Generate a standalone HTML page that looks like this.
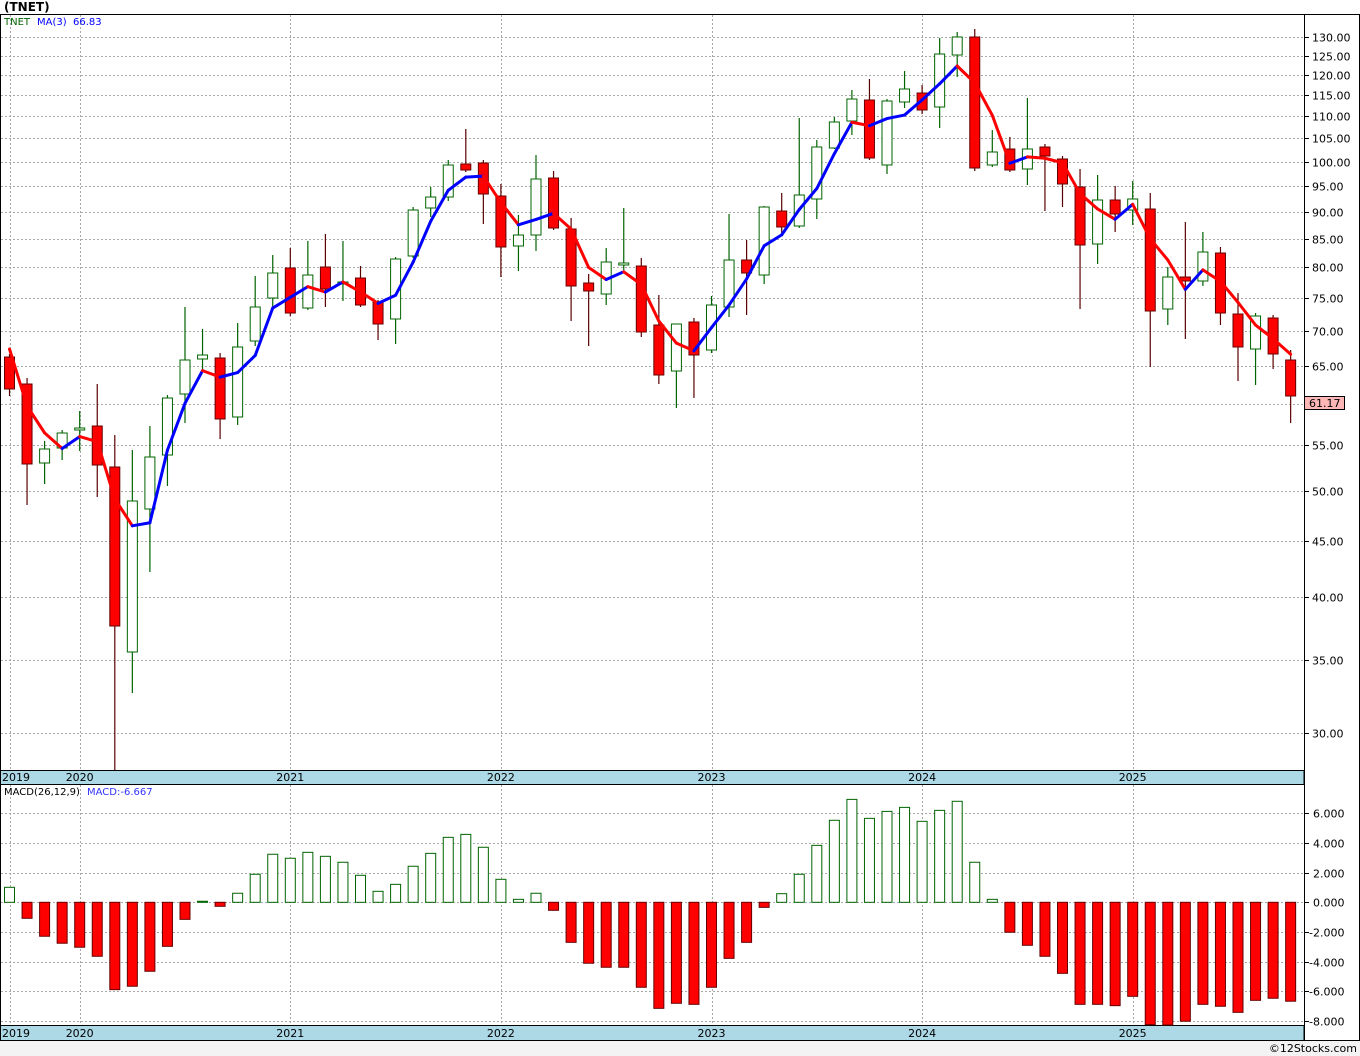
<!DOCTYPE html>
<html><head><meta charset="utf-8"><style>
html,body{margin:0;padding:0;background:#fff;width:1360px;height:1056px;overflow:hidden}
svg text{font-family:"DejaVu Sans","Liberation Sans",sans-serif}
</style></head><body>
<svg id="s" width="1360" height="1056" xmlns="http://www.w3.org/2000/svg"></svg>
<script>
const C=[[357,389,354,396,1],[384,464,378,505,1],[449,463,441,484,0],[433,448,430,460,0],[428,430,411,451,0],[426,465,384,497,1],[467,626,435,770,1],[501,652,450,693,0],[457,509,426,572,0],[398,455,395,486,0],[360,394,307,423,0],[355,359,329,371,0],[358,419,353,439,1],[347,417,323,425,0],[307,341,276,346,0],[273,298,255,307,0],[268,313,248,316,1],[275,308,241,310,0],[267,289,234,307,1],[282,284,241,301,0],[278,305,266,307,1],[302,324,300,340,1],[259,319,257,344,0],[210,256,207,258,0],[197,208,187,217,0],[165,197,160,201,0],[164,170,129,172,1],[163,194,160,224,1],[196,247,184,277,1],[235,246,215,271,0],[179,235,155,251,0],[178,228,171,230,1],[229,286,218,321,1],[283,291,274,346,1],[262,294,248,305,0],[263,265,208,270,0],[266,332,258,337,1],[325,375,295,384,1],[324,371,324,408,0],[322,355,318,398,1],[305,350,296,353,0],[260,307,214,317,0],[260,273,240,315,1],[207,275,206,284,0],[211,227,193,233,1],[195,226,118,228,0],[147,199,140,219,0],[122,148,117,149,0],[99,121,90,135,0],[100,158,79,160,1],[101,165,99,174,0],[89,102,71,108,0],[93,110,85,114,1],[54,107,38,128,0],[37,55,32,77,0],[37,168,29,171,1],[152,165,130,167,0],[149,170,137,172,1],[149,169,98,185,0],[147,156,144,211,1],[159,184,156,207,1],[187,245,169,309,1],[200,244,175,264,0],[200,214,186,232,1],[199,210,181,225,0],[209,311,193,367,1],[277,309,267,325,0],[277,281,222,339,1],[252,281,232,286,0],[253,313,247,325,1],[314,347,293,381,1],[316,349,313,385,0],[318,354,315,369,1],[360,396,350,423,1]];
const M=[1.01,-1.08,-2.29,-2.76,-3.03,-3.64,-5.89,-5.66,-4.65,-2.97,-1.15,0.07,-0.27,0.61,1.89,3.24,2.97,3.37,3.10,2.70,1.82,0.74,1.21,2.43,3.30,4.38,4.58,3.71,1.55,0.20,0.61,-0.54,-2.70,-4.11,-4.38,-4.38,-5.73,-7.15,-6.81,-6.88,-5.73,-3.78,-2.70,-0.34,0.58,1.89,3.84,5.53,6.94,5.66,6.13,6.40,5.46,6.20,6.81,2.70,0.20,-2.02,-2.90,-3.64,-4.79,-6.88,-6.88,-6.97,-6.34,-8.25,-8.29,-8.02,-6.88,-7.01,-7.42,-6.61,-6.47,-6.67];
const X=i=>9.5+17.55*i;
const Y=p=>37+474.7*Math.log(130/p);
const P=y=>130*Math.exp(-(y-37)/474.7);
const MY=v=>902.3-14.83*v;
let h='';
h+='<rect x="0" y="1041" width="1360" height="15" fill="#f3f3f3"/>';
h+='<text x="1357" y="1052" font-size="11" text-anchor="end" fill="#000">©12Stocks.com</text>';
h+='<text x="4" y="11" font-size="12" font-weight="bold" fill="#000">(TNET)</text>';
const grid='stroke="#a8a8a8" stroke-width="1" stroke-dasharray="2,2"';
for(let p=30;p<=130;p+=5){const y=Math.round(Y(p))+0.5;h+=`<line x1="1" x2="1304" y1="${y}" y2="${y}" ${grid}/>`;h+=`<line x1="1304" x2="1309" y1="${y}" y2="${y}" stroke="#000"/>`;if(p!=60)h+=`<text x="1312" y="${y+4}" font-size="11" fill="#000">${p.toFixed(2)}</text>`;}
for(let v=-8;v<=6;v+=2){const y=Math.round(MY(v))+0.5;h+=`<line x1="1" x2="1304" y1="${y}" y2="${y}" ${grid}/>`;h+=`<line x1="1304" x2="1309" y1="${y}" y2="${y}" stroke="#000"/>`;h+=`<text x="${v<0?1309:1313}" y="${y+4}" font-size="11" fill="#000">${v.toFixed(3)}</text>`;}
const vg=[0,4,16,28,40,52,64];
vg.forEach(i=>{const x=Math.round(X(i))+0.5;h+=`<line x1="${x}" x2="${x}" y1="15" y2="770" ${grid}/><line x1="${x}" x2="${x}" y1="785" y2="1025" ${grid}/>`;});
h+='<rect x="0.5" y="770.5" width="1303.5" height="14" fill="#add8e6" stroke="#000"/>';
h+='<rect x="0.5" y="1025.5" width="1303.5" height="15" fill="#add8e6" stroke="#000"/>';
const yrs=['2019','2020','2021','2022','2023','2024','2025'];
vg.forEach((i,k)=>{const x=k==0?2:X(i);const a=k==0?'start':'middle';h+=`<text x="${x}" y="781" font-size="11" text-anchor="${a}" fill="#000">${yrs[k]}</text><text x="${x}" y="1037" font-size="11" text-anchor="${a}" fill="#000">${yrs[k]}</text>`;});
C.forEach((c,i)=>{const x=X(i);const [t,b,hi,lo,f]=c;
 const wc=f?'#5a0000':'#006400';
 h+=`<line x1="${x}" x2="${x}" y1="${hi}" y2="${Math.min(lo,770)}" stroke="${wc}" stroke-width="1.2"/>`;
 h+=`<rect x="${x-5}" y="${t}" width="10" height="${Math.max(b-t,1.5)}" fill="${f?'#ff0000':'#fff'}" stroke="${f?'#660000':'#006400'}" stroke-width="1"/>`;});
const cl=C.map(c=>P(c[4]?c[1]:c[0]));
const ma=[349,406];
for(let i=2;i<C.length;i++){ma.push(Y((cl[i]+cl[i-1]+cl[i-2])/3));}
for(let i=1;i<ma.length;i++){const col=ma[i]>ma[i-1]?'#ff0000':'#0000ff';h+=`<line x1="${X(i-1)}" y1="${ma[i-1]}" x2="${X(i)}" y2="${ma[i]}" stroke="${col}" stroke-width="3" stroke-linecap="round"/>`;}
h+='<rect x="1304.5" y="396.5" width="40" height="13" fill="#ffb6b6" stroke="#000"/><text x="1309" y="407" font-size="11" fill="#000">61.17</text>';
M.forEach((v,i)=>{const x=X(i);const y0=902.3,y1=Math.min(MY(v),1025);const pos=v>=0;
 h+=`<rect x="${x-5}" y="${Math.min(y0,y1)}" width="10" height="${Math.max(Math.abs(y1-y0),1)}" fill="${pos?'#fff':'#ff0000'}" stroke="${pos?'#006400':'#660000'}" stroke-width="1"/>`;});
h+='<line x1="0" x2="1360" y1="14.5" y2="14.5" stroke="#000"/>';
h+='<line x1="0.5" x2="0.5" y1="14" y2="1041" stroke="#000"/>';
h+='<line x1="1304.5" x2="1304.5" y1="14" y2="1041" stroke="#000"/>';
h+='<line x1="1359.5" x2="1359.5" y1="14" y2="1041" stroke="#000"/>';
h+='<line x1="0" x2="1360" y1="1040.5" y2="1040.5" stroke="#000"/>';
h+='<text x="4" y="25" font-size="10" fill="#006400">TNET</text><text x="37" y="25" font-size="10" fill="#0000ff">MA(3)</text><text x="73" y="25" font-size="10" fill="#0000ff">66.83</text>';
h+='<text x="4" y="795" font-size="10" fill="#000">MACD(26,12,9)</text><text x="87" y="795" font-size="10" fill="#3333ff">MACD:-6.667</text>';
document.getElementById('s').innerHTML=h;
</script>
</body></html>
